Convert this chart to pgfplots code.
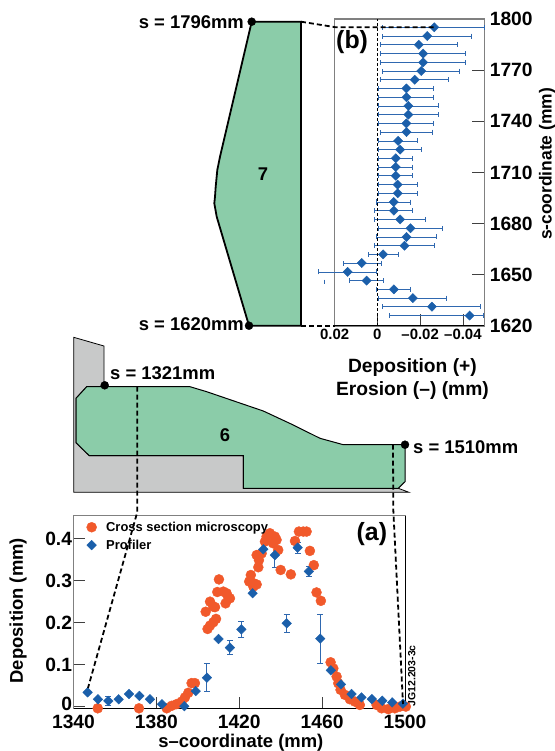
\documentclass[border=0pt]{standalone}
\usepackage{fontspec}
\setmainfont{Liberation Sans}
\usepackage{pgfplots}
\usepackage{pgfplotstable}
\pgfplotsset{compat=1.18}
\definecolor{mred}{HTML}{F1592B}
\definecolor{mblue}{HTML}{1B5FAA}
\definecolor{ebar}{HTML}{2F68B0}
\definecolor{mgreen}{HTML}{8BCCA9}
\definecolor{mgray}{HTML}{C8C9C9}
\definecolor{frame}{gray}{0.5}
\newcommand{\lab}{\fontsize{18.5}{21}\selectfont\bfseries}
\newcommand{\labt}{\fontsize{19.3}{23}\selectfont\bfseries}
\newcommand{\labs}{\fontsize{15}{18}\selectfont\bfseries}
\pgfplotstableread{
s y
1351.7 -0.004
1371.6 -0.004
1385.0 -0.004
1387.4 0.002
1389.8 0.006
1392.2 0.012
1393.8 0.022
1395.4 0.033
1397.0 0.056
1398.6 0.056
1404.7 0.185
1405.9 0.193
1407.5 0.201
1408.8 0.209
1403.8 0.226
1405.9 0.250
1407.5 0.238
1408.3 0.237
1409.4 0.273
1410.2 0.303
1412.3 0.274
1413.9 0.270
1414.7 0.260
1413.4 0.246
1415.5 0.258
1425.6 0.3135
1424.8 0.298
1426.8 0.294
1428.4 0.291
1426.8 0.286
1429.2 0.332
1429.5 0.349
1428.4 0.361
1430.8 0.365
1433.2 0.405
1432.4 0.393
1434.8 0.413
1437.2 0.405
1438.0 0.397
1436.4 0.389
1438.8 0.373
1440.0 0.3255
1444.9 0.315
1446.9 0.3945
1448.8 0.417
1450.9 0.417
1452.5 0.417
1454.1 0.371
1456.0 0.337
1457.3 0.272
1459.4 0.252
1464.1 0.1056
1465.4 0.091
1467.0 0.0715
1467.8 0.0556
1468.9 0.040
1471.0 0.028
1473.4 0.0175
1475.8 0.012
1478.2 0.004
1486.3 0.004
1488.7 -0.004
1491.9 -0.006
1495.1 -0.004
1497.5 0
1500.4 0
}\microscopy
\pgfplotstableread{
s y e
1346.8 0.034 0
1351.8 0.0175 0
1356.8 0.0135 0.01
1361.8 0.0175 0
1366.8 0.030 0
1371.8 0.0255 0
1376.9 0.0175 0
1382.7 0.0056 0
1393.5 0.001 0
1399.0 0.037 0
1404.4 0.069 0.033
1410.0 0.161 0
1415.5 0.1405 0.017
1421.0 0.184 0.0185
1426.45 0.270 0
1431.6 0.3747 0
1437.2 0.361 0.03
1442.9 0.1985 0.021
1448.2 0.3787 0.013
1453.6 0.322 0.013
1459.1 0.162 0.058
1464.2 0.0866 0
1469.1 0.053 0
1474.2 0.030 0
1479.0 0.022 0
1484.0 0.018 0
1489.0 0.014 0
1493.8 0.010 0
1499.0 0.007 0
}\profilerA
\pgfplotstableread{
x s ep em
-0.0266 1795.1 0.0241 0.0236
-0.0233 1790.0 0.0208 0.0209
-0.0194 1784.9 0.0178 0.0180
-0.0214 1779.7 0.0198 0.0198
-0.0214 1774.6 0.0198 0.0198
-0.0205 1769.5 0.0180 0.0180
-0.0175 1764.4 0.0159 0.0158
-0.0136 1759.3 0.0130 0.0128
-0.0136 1754.1 0.0130 0.0128
-0.0145 1749.0 0.0139 0.0139
-0.0145 1743.9 0.0139 0.0139
-0.0136 1738.8 0.0130 0.0128
-0.0136 1733.7 0.0120 0.0119
-0.0097 1728.5 0.0091 0.0089
-0.0106 1723.4 0.0100 0.0098
-0.0086 1718.3 0.0080 0.0080
-0.0086 1713.2 0.0080 0.0080
-0.0086 1708.1 0.0080 0.0080
-0.0095 1702.9 0.0089 0.0091
-0.0095 1697.8 0.0089 0.0091
-0.0077 1692.7 0.0080 0.0078
-0.0077 1687.6 0.0091 0.0089
-0.0106 1682.5 0.0120 0.0119
-0.0155 1677.3 0.0148 0.0150
-0.0136 1672.2 0.0139 0.0139
-0.0127 1667.1 0.0141 0.0139
-0.0027 1662.0 0.0069 0.0072
0.0073 1656.9 0.0086 0.0091
0.0139 1651.7 0.0139 0.0136
0.0050 1646.6 0.0080 0.0077
-0.0077 1641.5 0.0080 0.0078
-0.0166 1636.4 0.0159 0.0159
-0.0255 1631.3 0.0230 0.0228
-0.0431 1626.1 0.0375 0.0066
}\profilerB
\begin{document}
\begin{tikzpicture}[x=1bp,y=1bp]
\path[use as bounding box] (0,0) rectangle (555bp,751bp);
% panel (a)
\begin{axis}[
  at={(73.5bp,42.7bp)},anchor=south west,scale only axis,
  width=331.5bp,height=192.6bp,
  xmin=1340,xmax=1500,ymin=-0.004,ymax=0.4548,
  xtick={1340,1380,1420,1460,1500},xticklabels={1340,1380,1420,1460,1500},
  ytick={0,0.1,0.2,0.3,0.4},yticklabels={\raisebox{5bp}{0},0.1,0.2,0.3,0.4},
  xtick pos=bottom,ytick pos=left,tick align=inside,major tick length=11.5bp,
  tick style={black!75,line width=0.8pt},
  axis line style={frame,line width=1pt},
  clip=false,
  tick label style={font=\labt},
  xticklabel style={yshift=-3bp},
  yticklabel style={xshift=2bp},
  xlabel={s--coordinate (mm)},ylabel={Deposition (mm)},
  label style={font=\lab},
  x label style={at={(axis description cs:0.505,-0.18)},anchor=center},
  y label style={at={(axis description cs:-0.167,0.507)},anchor=center},
  legend style={at={(axis description cs:0.033,0.99)},anchor=north west,draw=none,fill=none,
    font=\fontsize{13}{15}\selectfont\bfseries,row sep=3bp,inner sep=2bp},
  legend cell align=left,
]
\addplot[only marks,mark=*,mark size=5bp,mred,mark options={draw=mred,fill=mred}] table[x=s,y=y] {\microscopy};
\addlegendentry{\hspace{7.5bp}Cross section microscopy}
\addplot[only marks,mark=diamond*,mark size=4.8bp,mblue,mark options={draw=mblue,fill=mblue,xscale=1.33},
  error bars/.cd,y dir=both,y explicit,error mark options={rotate=90,mark size=3bp,ebar,line width=0.9pt},
  error bar style={ebar,line width=0.9pt}] table[x=s,y=y,y error=e] {\profilerA};
\addlegendentry{\hspace{7.5bp}Profiler}
\draw[black,line width=1pt] (rel axis cs:0,0)--(rel axis cs:1,0);
\draw[black,line width=0.8pt] (rel axis cs:1,0)--(rel axis cs:1,1);
\node[font=\fontsize{25}{27}\selectfont\bfseries] at (axis cs:1484,0.411) {(a)};
\node[font=\fontsize{10.5}{12}\selectfont\bfseries,rotate=90,anchor=west,inner sep=0pt] at (axis cs:1503.3,0.0) {JG12.203-3c};
\end{axis}
% panel (b)
\begin{axis}[
  at={(334.6bp,425bp)},anchor=south west,scale only axis,
  width=149.7bp,height=307bp,
  x dir=reverse,scaled x ticks=false,
  xmin=-0.05,xmax=0.02,ymin=1620,ymax=1800,
  xtick={-0.04,-0.02,0,0.02},xticklabels={--0.04,--0.02,0,0.02},
  ytick={1620,1650,1680,1710,1740,1770,1800},
  yticklabels={1620,1650,1680,1710,1740,1770,1800},
  xtick pos=bottom,ytick pos=right,yticklabel pos=right,tick align=inside,major tick length=12bp,
  tick style={black!75,line width=0.8pt},
  axis line style={frame,line width=1.2pt},
  clip=false,
  yticklabel style={font=\labt,xshift=2bp},
  xticklabel style={font=\labs},
  ylabel={s-coordinate (mm)},
  xlabel={Deposition (+)\\Erosion (--) (mm)},
  label style={font=\labt},
  x label style={align=center,at={(axis description cs:0.52,-0.1726)},anchor=center},
  y label style={font=\fontsize{17.5}{20}\selectfont\bfseries,at={(axis description cs:1.42,0.528)},anchor=center},
]
\addplot[only marks,mark=diamond*,mark size=4.6bp,mblue,mark options={draw=mblue,fill=mblue,xscale=1.33},
  error bars/.cd,x dir=both,x explicit,error mark options={rotate=90,mark size=2.5bp,ebar,line width=0.8pt},
  error bar style={ebar,line width=0.8pt}] table[x=x,y=s,x error plus=ep,x error minus=em] {\profilerB};
\addplot[ebar,line width=0.8pt] coordinates {(0.025,1647.2) (0.025,1644.6)};
\addplot[black,line width=0.7pt,dash pattern=on 3bp off 2bp] coordinates {(0,1620) (0,1800)};
\draw[black,line width=1pt] (rel axis cs:0,0)--(rel axis cs:1,0);
\node[font=\fontsize{25}{27}\selectfont\bfseries] at (axis cs:0.0118,1786.7) {(b)};
\end{axis}
% diagrams, in picture pixels
\begin{axis}[
  at={(0bp,0bp)},anchor=south west,scale only axis,width=555bp,height=751bp,
  xmin=0,xmax=555,ymin=0,ymax=751,y dir=reverse,hide axis,clip=false,
]
\addplot[draw=black,line width=0.8pt,fill=mgray] coordinates {(73.7,337.3) (104,346) (104,386.7) (86.7,386.7) (76,398.3) (76,442.7) (89.3,455.7) (243.3,455.7) (243.3,488.3) (398.3,488.3) (409,492.3) (73.7,492.3)} --cycle;
\addplot[draw=black,line width=1pt,fill=mgreen] coordinates {(86.7,386.7) (190,386.7) (206.7,391.7) (263.3,411) (293.3,425) (320,438.3) (343.3,444.7) (405,444.7) (405,481.7) (398.3,488.3) (243.3,488.3) (243.3,455.7) (89.3,455.7) (76,442.7) (76,398.3)} --cycle;
\addplot[draw=black,line width=1.8pt,fill=mgreen] coordinates {(251.7,21.7) (301,21.7) (301,325.7) (249,325.7) (216.7,216.7) (214.3,203.3) (215,196.7) (215.7,186.7) (217.3,170) (220,156.7)} --cycle;
\addplot[black,line width=1.8pt,dash pattern=on 5bp off 3bp] coordinates {(301,21.7) (336,27.3) (434,27.3)};
\addplot[black,line width=1.8pt,dash pattern=on 5bp off 3bp] coordinates {(301,325.7) (334.6,325.7)};
\addplot[black,line width=1.8pt,dash pattern=on 5bp off 3bp] coordinates {(137.3,386.7) (137.3,512) (88,688)};
\addplot[black,line width=1.8pt,dash pattern=on 5bp off 3bp] coordinates {(393,444.7) (393.3,510) (403,704)};
\addplot[only marks,mark=*,mark size=4bp,black] coordinates {(251.7,21.7) (249,325.7) (104.7,385.3) (405,444.7)};
\node[font=\lab,anchor=east,inner sep=0pt] at (axis cs:244,22) {s = 1796mm};
\node[font=\lab,anchor=east,inner sep=0pt] at (axis cs:244,324.5) {s = 1620mm};
\node[font=\lab,anchor=west,inner sep=0pt] at (axis cs:110,372.7) {s = 1321mm};
\node[font=\lab,anchor=west,inner sep=0pt] at (axis cs:413,446.7) {s = 1510mm};
\node[font=\lab] at (axis cs:263,174) {7};
\node[font=\lab] at (axis cs:225,435) {6};
\end{axis}
\end{tikzpicture}
\end{document}
